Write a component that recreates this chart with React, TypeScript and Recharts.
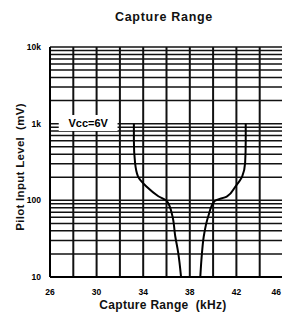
import { CartesianGrid, Line, LineChart, ReferenceArea, XAxis, YAxis } from "recharts";

const levels = [1000, 600, 310, 205, 150, 113, 97, 63, 34, 21, 10];
// frequency of the lower edge of the capture range at each level (kHz)
const lowFreq = [33.2, 33.2, 33.3, 33.55, 34.3, 35.3, 36.05, 36.5, 36.75, 37.0, 37.25];
// frequency of the upper edge
const highFreq = [42.8, 42.8, 42.75, 42.5, 41.9, 41.2, 40.1, 39.6, 39.2, 39.05, 38.9];

const freqTicks = [26, 28, 30, 32, 34, 36, 38, 40, 42, 44, 46];
const freqLabels = ["26", "30", "34", "38", "42", "46"];
const levelTicks = [
  10, 20, 30, 40, 50, 60, 70, 80, 90,
  100, 200, 300, 400, 500, 600, 700, 800, 900,
  1000, 2000, 3000, 4000, 5000, 6000, 7000, 8000, 9000, 10000,
];
const levelLabels: Record<number, string> = { 10: "10", 100: "100", 1000: "1k", 10000: "10k" };

const lowData = levels.map((level, i) => ({ freq: lowFreq[i], level }));
const highData = levels.map((level, i) => ({ freq: highFreq[i], level }));

const font = "'Liberation Sans', Arial, Helvetica, sans-serif";
const tickStyle = { fontSize: 8.5, fontWeight: "bold", fill: "#000", fontFamily: font };

// x tick: the last label sits at the page edge, so it is anchored at its end
function FreqTick(props: any) {
  const { x, y, payload } = props;
  const v = String(payload.value);
  if (!freqLabels.includes(v)) return null;
  const last = v === freqLabels[freqLabels.length - 1];
  return (
    <text x={last ? Math.min(x + 5, 281) : x} y={y} dy="0.71em" textAnchor={last ? "end" : "middle"} {...tickStyle}>
      {v}
    </text>
  );
}

export default function App() {
  return (
    <div style={{ position: "absolute", left: 0, top: 0, width: 282, height: 318, overflow: "hidden", background: "#fff", fontFamily: font }}>
      <div style={{ position: "absolute", left: 0, width: 328, top: 10, textAlign: "center", fontSize: 12.5, fontWeight: "bold", letterSpacing: 0.7, color: "#111" }}>
        Capture Range
      </div>
      <div style={{ position: "absolute", left: 20, top: 167, transform: "translate(-50%,-50%) rotate(-90deg)", whiteSpace: "nowrap", fontSize: 11.5, fontWeight: "bold", letterSpacing: 0.3, color: "#111" }}>
        Pilot Input Level&nbsp; (mV)
      </div>
      <div style={{ position: "absolute", left: 0, width: 326, top: 298, textAlign: "center", whiteSpace: "pre", fontSize: 12, fontWeight: "bold", letterSpacing: 0.3, color: "#111" }}>
        {"Capture Range  (kHz)"}
      </div>
      <LineChart width={284} height={318} margin={{ top: 47, right: 1, bottom: 0, left: 0 }}>
        <CartesianGrid horizontal={false} stroke="#111" strokeWidth={2} />
        <CartesianGrid vertical={false} stroke="#111" strokeWidth={1.5} />
        <XAxis
          dataKey="freq"
          type="number"
          domain={[26, 46]}
          ticks={freqTicks}
          interval={0}
          allowDataOverflow
          height={41}
          tickLine={false}
          tickMargin={6}
          axisLine={{ stroke: "#000", strokeWidth: 2 }}
          tick={<FreqTick />}
        />
        <YAxis
          type="number"
          scale="log"
          domain={[10, 10000]}
          ticks={levelTicks}
          interval={0}
          allowDataOverflow
          width={50}
          tickLine={false}
          tickMargin={3}
          axisLine={{ stroke: "#000", strokeWidth: 2 }}
          tick={tickStyle}
          tickFormatter={(v: number) => levelLabels[v] ?? ""}
        />
        <ReferenceArea
          x1={26.75}
          x2={31.8}
          y1={800}
          y2={1300}
          fill="#fff"
          fillOpacity={1}
          stroke="none"
          label={{ value: "Vcc=6V", position: "center", fill: "#000", fontSize: 11, fontWeight: "bold", fontFamily: font }}
        />
        <Line data={lowData} dataKey="level" type="monotoneY" stroke="#000" strokeWidth={2} dot={false} isAnimationActive={false} />
        <Line data={highData} dataKey="level" type="monotoneY" stroke="#000" strokeWidth={2} dot={false} isAnimationActive={false} />
      </LineChart>
    </div>
  );
}
